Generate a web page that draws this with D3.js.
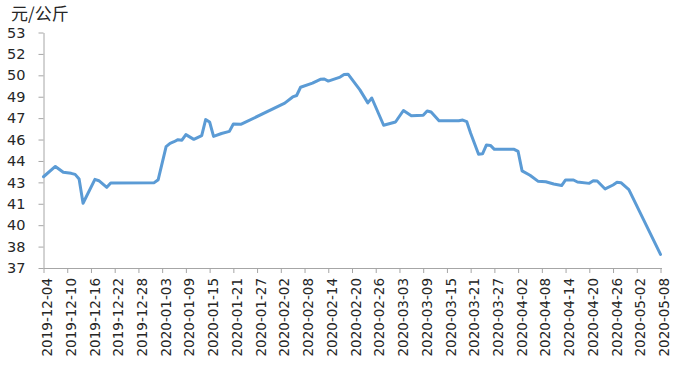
<!DOCTYPE html>
<html><head><meta charset="utf-8">
<script src="https://cdn.jsdelivr.net/npm/d3@7"></script>
<style>
body{margin:0;background:#fff;}
svg text{font-family:"DejaVu Sans",Verdana,sans-serif;fill:#262626;}
svg text.cjk{font-family:"Noto Sans CJK SC",sans-serif;}
</style></head>
<body><svg id="c" width="679" height="367"></svg>
<script>
const dates = ["2019-12-04","2019-12-07","2019-12-09","2019-12-11","2019-12-12","2019-12-13","2019-12-14","2019-12-17","2019-12-18","2019-12-20","2019-12-21",
"2020-01-01","2020-01-02","2020-01-04","2020-01-05","2020-01-06","2020-01-07","2020-01-08","2020-01-09","2020-01-11","2020-01-13","2020-01-14","2020-01-15","2020-01-16","2020-01-18","2020-01-20","2020-01-21","2020-01-23",
"2020-02-03","2020-02-05","2020-02-06","2020-02-07","2020-02-10","2020-02-12","2020-02-13","2020-02-14","2020-02-17","2020-02-18","2020-02-19","2020-02-22","2020-02-24","2020-02-25","2020-02-28",
"2020-03-02","2020-03-04","2020-03-06","2020-03-09","2020-03-10","2020-03-11","2020-03-13","2020-03-18","2020-03-19","2020-03-20","2020-03-21","2020-03-23","2020-03-24","2020-03-25","2020-03-26","2020-03-27",
"2020-04-01","2020-04-02","2020-04-03","2020-04-05","2020-04-07","2020-04-09","2020-04-11","2020-04-13","2020-04-14","2020-04-16","2020-04-17","2020-04-20","2020-04-21","2020-04-22","2020-04-24","2020-04-26","2020-04-27","2020-04-28","2020-04-30",
"2020-05-08"];
const prices = [43.2,43.9,43.5,43.43,43.36,43.05,41.4,43.02,42.93,42.48,42.78,
42.8,43.0,45.25,45.47,45.58,45.72,45.68,46.06,45.74,46.0,47.08,46.92,45.94,46.14,46.28,46.78,46.77,
48.2,48.62,48.72,49.28,49.56,49.82,49.84,49.7,49.97,50.15,50.17,49.1,48.22,48.55,46.7,
46.92,47.7,47.34,47.37,47.67,47.6,47.0,47.0,47.05,46.95,46.15,44.73,44.76,45.36,45.33,45.06,
45.06,44.92,43.6,43.3,42.9,42.86,42.71,42.6,42.98,42.98,42.84,42.75,42.93,42.91,42.37,42.64,42.82,42.8,42.32,
37.93];
const xTickLabels = ["2019-12-04","2019-12-10","2019-12-16","2019-12-22","2019-12-28","2020-01-03","2020-01-09","2020-01-15","2020-01-21","2020-01-27","2020-02-02","2020-02-08","2020-02-14","2020-02-20","2020-02-26","2020-03-03","2020-03-09","2020-03-15","2020-03-21","2020-03-27","2020-04-02","2020-04-08","2020-04-14","2020-04-20","2020-04-26","2020-05-02","2020-05-08"];
const yTickLabels = ["37","38","40","41","43","44","46","47","49","50","52","53"];
const yMin = 37, yMax = 53;
const unitLabel = "元/公斤";

const parse = d3.utcParse("%Y-%m-%d");
const data = dates.map((d,i)=>({date:parse(d), v:prices[i]}));
const svg = d3.select("#c");
const x = d3.scaleUtc().domain([parse(xTickLabels[0]), parse(xTickLabels[xTickLabels.length-1])]).range([43.5, 660.5]);
const y = d3.scaleLinear().domain([yMin, yMax]).range([268, 32.5]);
const yTicks = yTickLabels.map((_,i)=>yMin + i*(yMax-yMin)/(yTickLabels.length-1));

const axisColor = "#a6a6a6";
// Y axis
const ya = svg.append("g").attr("transform","translate(43.5,0)")
  .call(d3.axisLeft(y).tickValues(yTicks).tickSize(5).tickSizeOuter(0).tickFormat((d,i)=>yTickLabels[i]));
ya.select(".domain").attr("stroke",axisColor);
ya.selectAll(".tick line").attr("stroke",axisColor);
ya.selectAll(".tick text").attr("x",-18).style("font-size","14.5px");

// X axis
const xa = svg.append("g").attr("transform","translate(0,268)")
  .call(d3.axisBottom(x).tickValues(xTickLabels.map(parse)).tickSize(5).tickSizeOuter(0).tickFormat((d,i)=>xTickLabels[i]));
xa.select(".domain").attr("stroke",axisColor).attr("d","M43.5,0.5H662");
xa.selectAll(".tick line").attr("stroke",axisColor);
xa.selectAll(".tick text").attr("transform","rotate(-90)").attr("x",-10).attr("y",0).attr("dy","0.6em")
  .attr("text-anchor","end").style("font-size","13.5px");

// line
svg.append("path").datum(data)
  .attr("fill","none").attr("stroke","#5b9bd5").attr("stroke-width",3).attr("stroke-linejoin","round").attr("stroke-linecap","round")
  .attr("d", d3.line().x(d=>x(d.date)).y(d=>y(d.v)));

svg.append("text").attr("class","cjk").attr("x",11).attr("y",20).style("font-size","17px").text(unitLabel);
</script></body></html>
